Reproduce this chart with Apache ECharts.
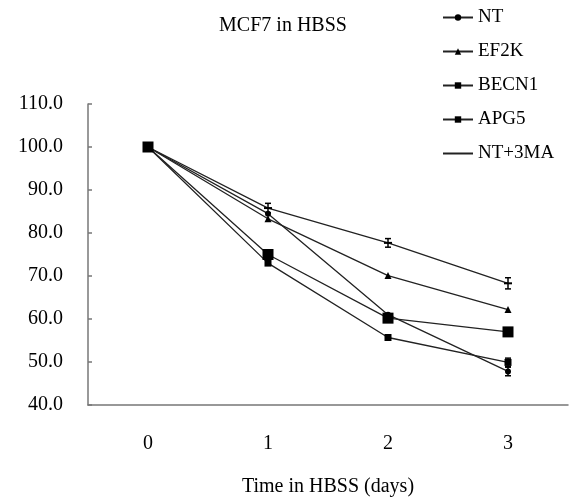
<!DOCTYPE html>
<html>
<head>
<meta charset="utf-8">
<script src="https://cdn.jsdelivr.net/npm/echarts@6/dist/echarts.min.js"></script>
<style>
  html, body { margin: 0; padding: 0; background: #fff; }
  #chart { width: 570px; height: 497px; }
</style>
</head>
<body>
<div id="chart"></div>
<script>
// data
var days = ['0', '1', '2', '3'];
var yTicks = [40, 50, 60, 70, 80, 90, 100, 110];

var nt     = [100, 84.5, 61.0, 47.8];
var ef2k   = [100, 83.3, 70.1, 62.2];
var becn1  = [100, 73.0, 55.7, 49.9];
var apg5   = [100, 75.0, 60.2, 57.0];
var nt3ma  = [100, 85.8, 77.7, 68.3];

// error bar half-widths
var nt3maErr = [0, 1.1, 1.0, 1.3];
var ntErr    = [0, 0, 0, 1.0];
var becn1Err = [0, 0, 0, 1.0];

var serif = 'Liberation Serif';
var ink = '#222';

function lineSeries(name, data, symbol, size) {
  return {
    name: name,
    type: 'line',
    data: data,
    symbol: symbol,
    symbolSize: size,
    lineStyle: { color: ink, width: 1.3 },
    itemStyle: { color: '#000' },
    emphasis: { disabled: true },
    z: 3
  };
}

function errData(vals, errs) {
  var out = [];
  for (var i = 0; i < vals.length; i++) {
    if (errs[i] > 0) out.push([i, vals[i] - errs[i], vals[i] + errs[i]]);
  }
  return out;
}

function errorSeries(vals, errs) {
  return {
    type: 'custom',
    data: errData(vals, errs),
    silent: true,
    z: 4,
    renderItem: function (params, api) {
      var lo = api.coord([api.value(0), api.value(1)]);
      var hi = api.coord([api.value(0), api.value(2)]);
      var w = 3;
      var st = { stroke: '#000', lineWidth: 1.5 };
      return {
        type: 'group',
        children: [
          { type: 'line', shape: { x1: lo[0], y1: lo[1], x2: hi[0], y2: hi[1] }, style: st },
          { type: 'line', shape: { x1: lo[0] - w, y1: lo[1], x2: lo[0] + w, y2: lo[1] }, style: st },
          { type: 'line', shape: { x1: hi[0] - w, y1: hi[1], x2: hi[0] + w, y2: hi[1] }, style: st }
        ]
      };
    }
  };
}

var chart = echarts.init(document.getElementById('chart'));

chart.setOption({
  backgroundColor: '#fff',
  animation: false,
  title: {
    text: 'MCF7 in HBSS',
    left: 278,
    textAlign: 'center',
    top: 11,
    textStyle: { fontFamily: serif, fontSize: 20, fontWeight: 'normal', color: '#000' }
  },
  legend: {
    orient: 'vertical',
    left: 437,
    top: 3,
    itemWidth: 30,
    itemHeight: 8,
    itemGap: 15,
    textStyle: { fontFamily: serif, fontSize: 19, color: '#000' },
    data: [
      'NT', 'EF2K', 'BECN1', 'APG5',
      { name: 'NT+3MA', itemStyle: { color: 'rgba(0,0,0,0)', borderWidth: 0 } }
    ]
  },
  grid: { left: 88, right: 2, top: 104, bottom: 92, outerBoundsMode: 'none' },
  xAxis: {
    type: 'category',
    data: days,
    boundaryGap: true,
    name: 'Time in HBSS (days)',
    nameLocation: 'middle',
    nameGap: 72,
    nameTextStyle: { fontFamily: serif, fontSize: 20, color: '#000' },
    axisLine: { lineStyle: { color: '#777', width: 1.5 } },
    axisTick: { inside: true, length: 5, lineStyle: { color: '#777', width: 1.5 } },
    axisLabel: { margin: 29, fontFamily: serif, fontSize: 20, color: '#000' },
    splitLine: { show: false }
  },
  yAxis: {
    type: 'value',
    min: yTicks[0],
    max: yTicks[yTicks.length - 1],
    interval: 10,
    axisLine: { show: true, lineStyle: { color: '#777', width: 1.5 } },
    axisTick: { show: true, inside: true, length: 4, lineStyle: { color: '#777', width: 1.5 } },
    axisLabel: {
      margin: 25,
      fontFamily: serif,
      fontSize: 20,
      color: '#000',
      formatter: function (v) { return v.toFixed(1); }
    },
    splitLine: { show: false }
  },
  series: [
    lineSeries('NT', nt, 'circle', 6),
    lineSeries('EF2K', ef2k, 'triangle', 7),
    lineSeries('BECN1', becn1, 'rect', 7),
    lineSeries('APG5', apg5, 'rect', 11),
    lineSeries('NT+3MA', nt3ma, 'rect', [8, 2]),
    errorSeries(nt3ma, nt3maErr),
    errorSeries(nt, ntErr),
    errorSeries(becn1, becn1Err)
  ]
});
</script>
</body>
</html>
